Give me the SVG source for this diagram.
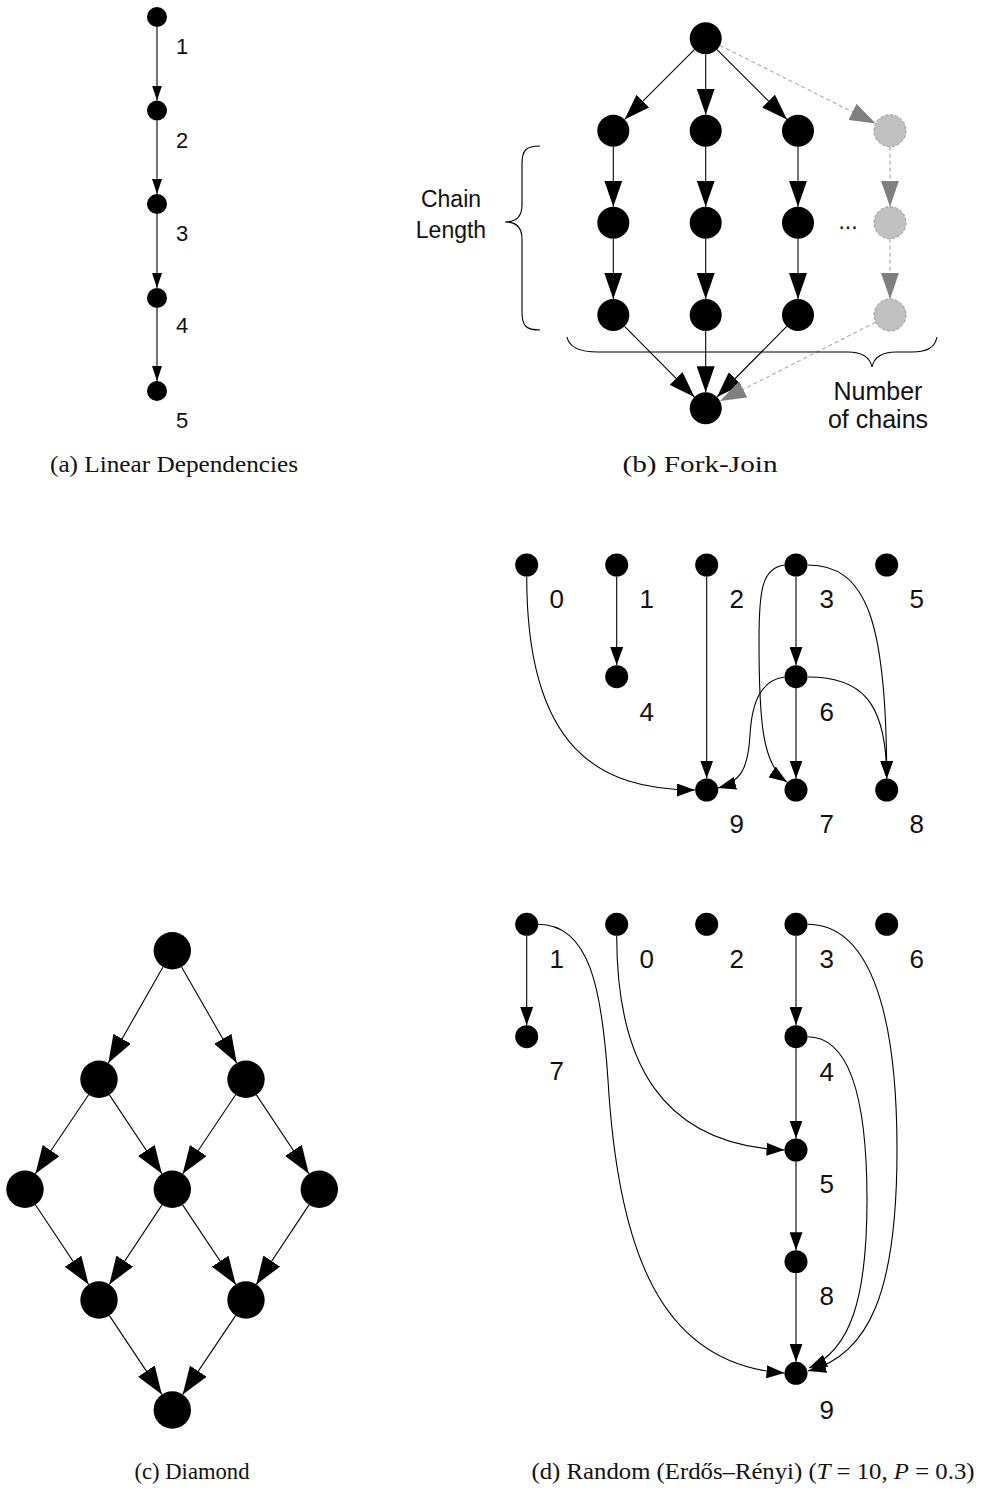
<svg xmlns="http://www.w3.org/2000/svg" width="981" height="1501" viewBox="0 0 981 1501">
<style>
.n{fill:#000}
.g{fill:#c0c0c0;stroke:#999;stroke-width:1;stroke-dasharray:3,2}
.e{fill:none;stroke:#000;stroke-width:1.1}
.ed{fill:none;stroke:#999;stroke-width:1;stroke-dasharray:4,3}
.lbl{font-family:"Liberation Sans",Arial,sans-serif;fill:#111;text-anchor:middle}
.cap{font-family:"Liberation Serif","DejaVu Serif",serif;font-size:23px;fill:#111;text-anchor:middle}
</style>
<defs>
<marker id="aS" markerUnits="userSpaceOnUse" markerWidth="15" markerHeight="10" refX="15" refY="5" orient="auto"><path d="M0,0 L15,5 L0,10 z" fill="#000"/></marker>
<marker id="aM" markerUnits="userSpaceOnUse" markerWidth="18" markerHeight="13" refX="18" refY="6.5" orient="auto"><path d="M0,0 L18,6.5 L0,13 z" fill="#000"/></marker>
<marker id="aL" markerUnits="userSpaceOnUse" markerWidth="26" markerHeight="18" refX="26" refY="9" orient="auto"><path d="M0,0 L26,9 L0,18 z" fill="#000"/></marker>
<marker id="aG" markerUnits="userSpaceOnUse" markerWidth="26" markerHeight="18" refX="26" refY="9" orient="auto"><path d="M0,0 L26,9 L0,18 z" fill="#808080"/></marker>
<marker id="aD" markerUnits="userSpaceOnUse" markerWidth="28" markerHeight="20" refX="28" refY="10" orient="auto"><path d="M0,0 L28,10 L0,20 z" fill="#000"/></marker>
</defs>

<!-- (a) Linear -->
<g id="linear-edges">
<line class="e" x1="157" y1="27" x2="157" y2="100.5" marker-end="url(#aS)"/>
<line class="e" x1="157" y1="120.5" x2="157" y2="194" marker-end="url(#aS)"/>
<line class="e" x1="157" y1="214" x2="157" y2="288" marker-end="url(#aS)"/>
<line class="e" x1="157" y1="308" x2="157" y2="381" marker-end="url(#aS)"/>
</g>
<g id="a1"><circle class="n" cx="157" cy="17" r="10"/><text class="lbl" x="182" y="54" font-size="22">1</text></g>
<g id="a2"><circle class="n" cx="157" cy="110.5" r="10"/><text class="lbl" x="182" y="147.5" font-size="22">2</text></g>
<g id="a3"><circle class="n" cx="157" cy="204" r="10"/><text class="lbl" x="182" y="240.5" font-size="22">3</text></g>
<g id="a4"><circle class="n" cx="157" cy="298" r="10"/><text class="lbl" x="182" y="333" font-size="22">4</text></g>
<g id="a5"><circle class="n" cx="157" cy="391" r="10"/><text class="lbl" x="182" y="427.5" font-size="22">5</text></g>
<text class="cap" x="174" y="472" textLength="248" lengthAdjust="spacingAndGlyphs">(a) Linear Dependencies</text>

<!-- (b) Fork-Join -->
<g id="fj-edges">
<line class="e" x1="694.4" y1="49.6" x2="624.6" y2="119.4" marker-end="url(#aL)"/>
<line class="e" x1="705.7" y1="54.3" x2="705.7" y2="114.7" marker-end="url(#aL)"/>
<line class="e" x1="717" y1="49.6" x2="787" y2="119.4" marker-end="url(#aL)"/>
<line class="ed" x1="720" y1="45.5" x2="875.7" y2="123.5" marker-end="url(#aG)"/>
<line class="e" x1="613.3" y1="146.7" x2="613.3" y2="206.7" marker-end="url(#aL)"/>
<line class="e" x1="705.7" y1="146.7" x2="705.7" y2="206.7" marker-end="url(#aL)"/>
<line class="e" x1="798" y1="146.7" x2="798" y2="206.7" marker-end="url(#aL)"/>
<line class="ed" x1="890" y1="146.7" x2="890" y2="206.7" marker-end="url(#aG)"/>
<line class="e" x1="613.3" y1="238.7" x2="613.3" y2="299" marker-end="url(#aL)"/>
<line class="e" x1="705.7" y1="238.7" x2="705.7" y2="299" marker-end="url(#aL)"/>
<line class="e" x1="798" y1="238.7" x2="798" y2="299" marker-end="url(#aL)"/>
<line class="ed" x1="890" y1="238.7" x2="890" y2="299" marker-end="url(#aG)"/>
<line class="e" x1="624.6" y1="326.4" x2="694.4" y2="396.9" marker-end="url(#aL)"/>
<line class="e" x1="705.7" y1="331" x2="705.7" y2="392.3" marker-end="url(#aL)"/>
<line class="e" x1="786.7" y1="326.4" x2="717" y2="397" marker-end="url(#aL)"/>
<line class="ed" x1="875.7" y1="322.2" x2="720" y2="401.1" marker-end="url(#aG)"/>
</g>
<g id="fj-top"><circle class="n" cx="705.7" cy="38.3" r="16"/></g>
<g id="fj-c1-1"><circle class="n" cx="613.3" cy="130.7" r="16"/></g>
<g id="fj-c2-1"><circle class="n" cx="705.7" cy="130.7" r="16"/></g>
<g id="fj-c3-1"><circle class="n" cx="798" cy="130.7" r="16"/></g>
<g id="fj-c4-1"><circle class="g" cx="890" cy="130.7" r="16"/></g>
<g id="fj-c1-2"><circle class="n" cx="613.3" cy="222.7" r="16"/></g>
<g id="fj-c2-2"><circle class="n" cx="705.7" cy="222.7" r="16"/></g>
<g id="fj-c3-2"><circle class="n" cx="798" cy="222.7" r="16"/></g>
<g id="fj-c4-2"><circle class="g" cx="890" cy="222.7" r="16"/></g>
<g id="fj-c1-3"><circle class="n" cx="613.3" cy="315" r="16"/></g>
<g id="fj-c2-3"><circle class="n" cx="705.7" cy="315" r="16"/></g>
<g id="fj-c3-3"><circle class="n" cx="798" cy="315" r="16"/></g>
<g id="fj-c4-3"><circle class="g" cx="890" cy="315" r="16"/></g>
<g id="fj-join"><circle class="n" cx="705.7" cy="408.3" r="16"/></g>
<text class="lbl" x="848" y="229" font-size="23">...</text>
<g id="brace-chain">
<path class="e" d="M540,146 C526,146 522,150 522,164 L522,205 C522,216 516,222 505,222 C516,222 522,228 522,239 L522,312 C522,326 526,330 540,330"/>
<text class="lbl" x="451" y="207" font-size="23">Chain</text>
<text class="lbl" x="451" y="238" font-size="23">Length</text>
</g>
<g id="brace-number">
<path class="e" d="M567,337 C569,347 578,352 598,352 L848,352 C862,352 870,358 872,367 C874,358 882,352 896,352 L912,352 C928,352 935,347 937,337"/>
<text class="lbl" x="878" y="400" font-size="25">Number</text>
<text class="lbl" x="878" y="428" font-size="25">of chains</text>
</g>
<text class="cap" x="700" y="472" textLength="155" lengthAdjust="spacingAndGlyphs">(b) Fork-Join</text>

<!-- (d) Random graph 1 -->
<g id="r1-edges">
<path class="e" d="M526.7,576.5 C526.7,750 600,790 695,790" marker-end="url(#aM)"/>
<line class="e" x1="616.7" y1="576.5" x2="616.7" y2="665" marker-end="url(#aM)"/>
<line class="e" x1="706.7" y1="576.5" x2="706.7" y2="778.5" marker-end="url(#aM)"/>
<line class="e" x1="796" y1="576.5" x2="796" y2="665" marker-end="url(#aM)"/>
<line class="e" x1="796" y1="688" x2="796" y2="778.5" marker-end="url(#aM)"/>
<path class="e" d="M784.5,565 C762,568 759,590 759,640 C759,720 762,765 787,782" marker-end="url(#aM)"/>
<path class="e" d="M808,565 C866,565 886.7,620 886.7,778.5" marker-end="url(#aM)"/>
<path class="e" d="M808,677 C860,677 886.7,700 886.7,778.5" marker-end="url(#aM)"/>
<path class="e" d="M784.5,677 C762,680 752,700 750,735 C748,770 740,782 718,788" marker-end="url(#aM)"/>
</g>
<g id="r1-0"><circle class="n" cx="526.7" cy="565" r="11.5"/><text class="lbl" x="556.7" y="607.5" font-size="26">0</text></g>
<g id="r1-1"><circle class="n" cx="616.7" cy="565" r="11.5"/><text class="lbl" x="646.7" y="607.5" font-size="26">1</text></g>
<g id="r1-2"><circle class="n" cx="706.7" cy="565" r="11.5"/><text class="lbl" x="736.7" y="607.5" font-size="26">2</text></g>
<g id="r1-3"><circle class="n" cx="796" cy="565" r="11.5"/><text class="lbl" x="826.7" y="607.5" font-size="26">3</text></g>
<g id="r1-5"><circle class="n" cx="886.7" cy="565" r="11.5"/><text class="lbl" x="916.7" y="607.5" font-size="26">5</text></g>
<g id="r1-4"><circle class="n" cx="616.7" cy="676.7" r="11.5"/><text class="lbl" x="646.7" y="721" font-size="26">4</text></g>
<g id="r1-6"><circle class="n" cx="796" cy="676.7" r="11.5"/><text class="lbl" x="826.7" y="721" font-size="26">6</text></g>
<g id="r1-9"><circle class="n" cx="706.7" cy="790" r="11.5"/><text class="lbl" x="736.7" y="832.5" font-size="26">9</text></g>
<g id="r1-7"><circle class="n" cx="796" cy="790" r="11.5"/><text class="lbl" x="826.7" y="832.5" font-size="26">7</text></g>
<g id="r1-8"><circle class="n" cx="886.7" cy="790" r="11.5"/><text class="lbl" x="916.7" y="832.5" font-size="26">8</text></g>

<!-- (d) Random graph 2 -->
<g id="r2-edges">
<line class="e" x1="526.7" y1="936" x2="526.7" y2="1025" marker-end="url(#aM)"/>
<line class="e" x1="796" y1="936" x2="796" y2="1025" marker-end="url(#aM)"/>
<line class="e" x1="796" y1="1048.2" x2="796" y2="1138.5" marker-end="url(#aM)"/>
<line class="e" x1="796" y1="1161.5" x2="796" y2="1250.2" marker-end="url(#aM)"/>
<line class="e" x1="796" y1="1273.2" x2="796" y2="1361.8" marker-end="url(#aM)"/>
<path class="e" d="M616.7,936 C616.7,1060 660,1145 784.5,1150" marker-end="url(#aM)"/>
<path class="e" d="M538,924.3 C590,924.3 602,990 608,1080 C618,1250 660,1365 784.5,1373" marker-end="url(#aM)"/>
<path class="e" d="M807.5,924.3 C865,924.3 897,1000 897,1150 C897,1290 870,1355 808,1371" marker-end="url(#aM)"/>
<path class="e" d="M807.5,1036.7 C850,1036.7 867,1100 867,1200 C867,1300 850,1350 809,1368" marker-end="url(#aM)"/>
</g>
<g id="r2-1"><circle class="n" cx="526.7" cy="924.3" r="11.5"/><text class="lbl" x="556.7" y="967.5" font-size="26">1</text></g>
<g id="r2-0"><circle class="n" cx="616.7" cy="924.3" r="11.5"/><text class="lbl" x="646.7" y="967.5" font-size="26">0</text></g>
<g id="r2-2"><circle class="n" cx="706.7" cy="924.3" r="11.5"/><text class="lbl" x="736.7" y="967.5" font-size="26">2</text></g>
<g id="r2-3"><circle class="n" cx="796" cy="924.3" r="11.5"/><text class="lbl" x="826.7" y="967.5" font-size="26">3</text></g>
<g id="r2-6"><circle class="n" cx="886.7" cy="924.3" r="11.5"/><text class="lbl" x="916.7" y="967.5" font-size="26">6</text></g>
<g id="r2-7"><circle class="n" cx="526.7" cy="1036.7" r="11.5"/><text class="lbl" x="556.7" y="1079.5" font-size="26">7</text></g>
<g id="r2-4"><circle class="n" cx="796" cy="1036.7" r="11.5"/><text class="lbl" x="826.7" y="1080.5" font-size="26">4</text></g>
<g id="r2-5"><circle class="n" cx="796" cy="1150" r="11.5"/><text class="lbl" x="826.7" y="1192.5" font-size="26">5</text></g>
<g id="r2-8"><circle class="n" cx="796" cy="1261.7" r="11.5"/><text class="lbl" x="826.7" y="1304.5" font-size="26">8</text></g>
<g id="r2-9"><circle class="n" cx="796" cy="1373.3" r="11.5"/><text class="lbl" x="826.7" y="1419" font-size="26">9</text></g>
<text class="cap" x="753" y="1479" textLength="443" lengthAdjust="spacingAndGlyphs">(d) Random (Erdős–Rényi) (<tspan font-style="italic">T</tspan> = 10, <tspan font-style="italic">P</tspan> = 0.3)</text>

<!-- (c) Diamond -->
<g id="dm-edges">
<line class="e" x1="163" y1="967" x2="108.3" y2="1063.1" marker-end="url(#aD)"/>
<line class="e" x1="181.6" y1="967" x2="236.7" y2="1063.1" marker-end="url(#aD)"/>
<line class="e" x1="88.6" y1="1094.8" x2="35.4" y2="1173.8" marker-end="url(#aD)"/>
<line class="e" x1="109.4" y1="1094.9" x2="161.9" y2="1173.7" marker-end="url(#aD)"/>
<line class="e" x1="235.6" y1="1094.8" x2="182.7" y2="1173.8" marker-end="url(#aD)"/>
<line class="e" x1="256.4" y1="1094.9" x2="308.9" y2="1173.7" marker-end="url(#aD)"/>
<line class="e" x1="35.4" y1="1204.8" x2="88.6" y2="1284.5" marker-end="url(#aD)"/>
<line class="e" x1="162" y1="1204.9" x2="109.3" y2="1284.4" marker-end="url(#aD)"/>
<line class="e" x1="182.6" y1="1204.9" x2="235.7" y2="1284.4" marker-end="url(#aD)"/>
<line class="e" x1="309" y1="1204.9" x2="256.3" y2="1284.4" marker-end="url(#aD)"/>
<line class="e" x1="109.4" y1="1315.6" x2="161.9" y2="1394.4" marker-end="url(#aD)"/>
<line class="e" x1="235.6" y1="1315.6" x2="182.7" y2="1394.4" marker-end="url(#aD)"/>
</g>
<g id="dm-top"><circle class="n" cx="172.3" cy="950.7" r="18.7"/></g>
<g id="dm-l2a"><circle class="n" cx="99" cy="1079.3" r="18.7"/></g>
<g id="dm-l2b"><circle class="n" cx="246" cy="1079.3" r="18.7"/></g>
<g id="dm-l3a"><circle class="n" cx="25" cy="1189.3" r="18.7"/></g>
<g id="dm-l3b"><circle class="n" cx="172.3" cy="1189.3" r="18.7"/></g>
<g id="dm-l3c"><circle class="n" cx="319.3" cy="1189.3" r="18.7"/></g>
<g id="dm-l4a"><circle class="n" cx="99" cy="1300" r="18.7"/></g>
<g id="dm-l4b"><circle class="n" cx="246" cy="1300" r="18.7"/></g>
<g id="dm-bot"><circle class="n" cx="172.3" cy="1410" r="18.7"/></g>
<text class="cap" x="192" y="1479" textLength="115" lengthAdjust="spacingAndGlyphs">(c) Diamond</text>
</svg>
